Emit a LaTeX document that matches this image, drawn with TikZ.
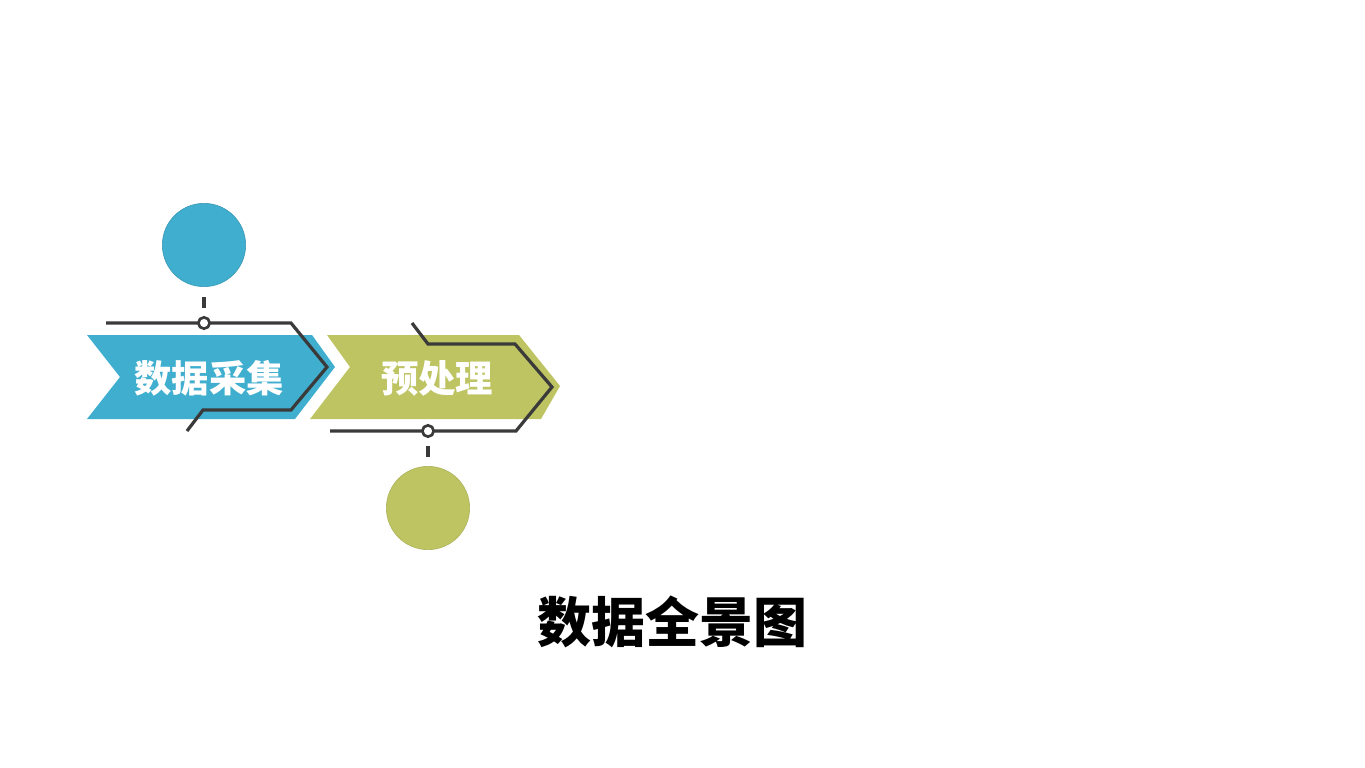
\documentclass[tikz,border=0pt]{standalone}
\usepackage{fontspec}
\newfontfamily\cjk{Noto Sans CJK SC}
\definecolor{stepblue}{RGB}{64,174,207}
\definecolor{stepgreen}{RGB}{190,196,98}
\definecolor{wiregray}{RGB}{58,58,58}
\tikzset{
  wire/.style={draw=wiregray, line width=2.4pt, line join=miter},
  ring/.style={circle, draw=wiregray, fill=white, line width=2pt, inner sep=0pt, minimum size=8.5pt},
  dot/.style={circle, inner sep=0pt, minimum size=62.5pt},
  tick/.style={draw=wiregray, line width=2.4pt},
  steplabel/.style={text=white, font=\cjk\bfseries\fontsize{28}{30}\selectfont},
}
\begin{document}
\begin{tikzpicture}[x=0.75pt, y=-0.75pt]  % data panorama
	\useasboundingbox (0,0) rectangle (1365,768);
	% arrow bands
	\fill[stepblue] (87,335) -- (312,335) -- (335,367) -- (295,419) -- (87,419) -- (120,377) -- cycle;
	\fill[stepgreen] (327,335) -- (519,335) -- (560,386) -- (541,419) -- (310,419) -- (350,367) -- cycle;
	\node[steplabel] (collect) at (209,378) {数据采集};
	\node[steplabel] (prep) at (437,378) {预处理};
	% wires
	\coordinate (wa) at (106,323);
	\coordinate (wb) at (187,431);
	\coordinate (wc) at (412,323);
	\coordinate (wd) at (330,431);
	\draw[wire] (wa) -- (291,323) -- (327,367) -- (291,410) -- (203,410) -- (wb);
	\draw[wire] (wc) -- (428,344) -- (515,344) -- (552,387) -- (516,431) -- (wd);
	\node[ring] (ringa) at (204,323) {};
	\node[ring] (ringb) at (428,431) {};
	% circles
	\node[dot, fill=stepblue, draw=stepblue!85!black, line width=0.4pt] (dota) at (204,245) {};
	\node[dot, fill=stepgreen, draw=stepgreen!90!black, line width=0.4pt] (dotb) at (428,508) {};
	\draw[tick, shorten <=7.5pt, shorten >=6pt] (dota.south) -- (ringa.north);
	\draw[tick, shorten <=6.5pt, shorten >=6pt] (dotb.north) -- (ringb.south);
	% title
	\node[font=\cjk\bfseries\fontsize{40.5}{44}\selectfont] (title) at (672,622) {数据全景图};
\end{tikzpicture}
\end{document}
